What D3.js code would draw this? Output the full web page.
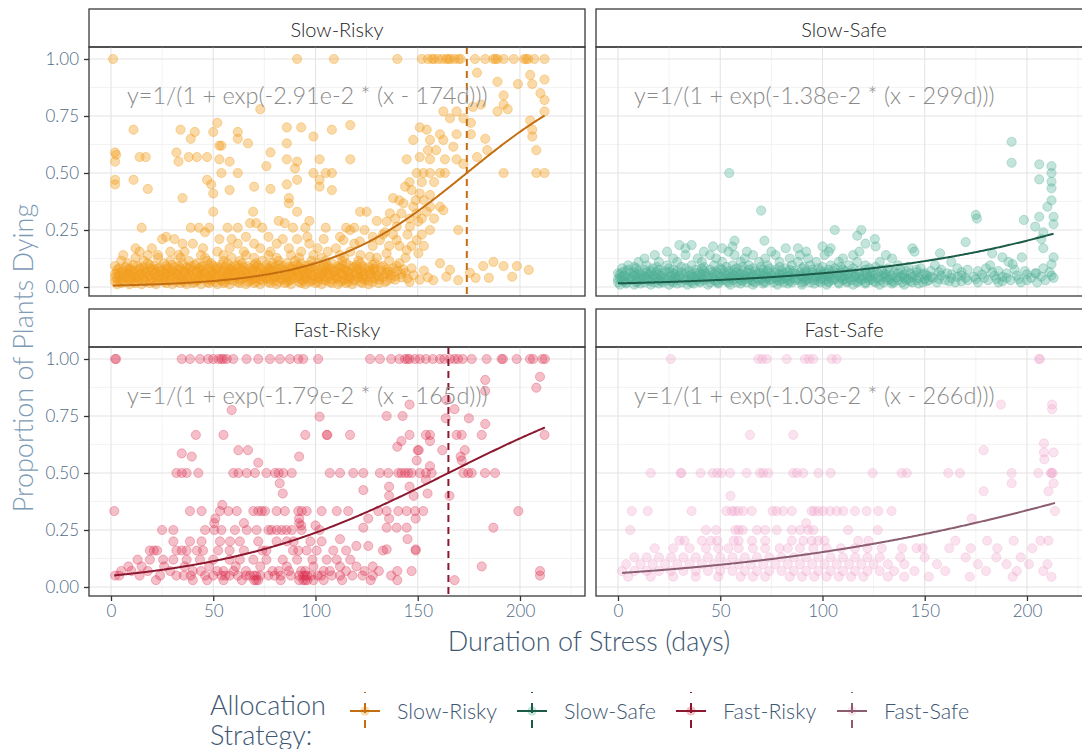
<!DOCTYPE html>
<html>
<head>
<meta charset="utf-8">
<script src="https://cdn.jsdelivr.net/npm/d3@7"></script>
<style>
  body { margin: 0; background: #fff; }
  text { font-family: Lato, "Open Sans", sans-serif; }
</style>
</head>
<body>
<svg id="chart" width="1082" height="749"></svg>
<script>
// Facet order and labels
const strategies = ["Slow-Risky", "Slow-Safe", "Fast-Risky", "Fast-Safe"];

// Logistic fit per strategy: y = 1/(1 + exp(rate * (x - midpoint)))
const fitRates = [-2.91e-2, -1.38e-2, -1.79e-2, -1.03e-2];
const fitMidpoints = [174, 299, 165, 266];

const pointColors = ["#f29d1e", "#4fb095", "#dc2a4c", "#f0a2cb"];
const pointAlpha = [0.38, 0.34, 0.3, 0.3];
const lineColors = ["#c46e12", "#1b5b47", "#8c1830", "#8a5d71"];

const xTicks = [0, 50, 100, 150, 200];
const yTicks = [0, 0.25, 0.5, 0.75, 1];

// Observations: [proportion dying, [durations in days]]
const slowRisky = [
  [1.00, [1, 91, 109, 140, 152, 155, 157, 158, 160, 162, 164, 165, 166, 168, 170, 171, 178, 183, 187, 188, 189, 192, 197, 202, 203, 204, 207, 212]],
  [0.94, [179]], [0.93, [205]], [0.91, [212]], [0.90, [189]], [0.89, [199, 206]],
  [0.85, [210]], [0.84, [192]], [0.82, [212]], [0.80, [192, 181]], [0.79, [177]],
  [0.78, [194, 73]], [0.77, [189, 212, 162.5, 169]], [0.74, [165.8, 172.3]], [0.73, [205]],
  [0.72, [52, 176]], [0.71, [117]], [0.70, [86, 93, 151]], [0.69, [11, 34, 108, 206, 154.4]],
  [0.68, [41, 50, 62]], [0.67, [160.9, 169, 176]], [0.66, [99, 206]], [0.65, [62, 39, 183]],
  [0.645, [147.8, 156, 162.5]], [0.63, [67, 86]], [0.62, [53, 54]], [0.615, [167.4]],
  [0.60, [184, 208, 155, 159]], [0.59, [2, 32, 78]], [0.58, [2.5]], [0.57, [14, 17, 38, 42, 47, 151, 179]],
  [0.56, [53, 86, 102, 117, 144.6, 156, 163.3, 169]], [0.55, [2, 33, 58, 91]], [0.54, [172.3]],
  [0.53, [76]], [0.52, [90]],
  [0.50, [54, 62, 99, 105, 108, 149.5, 152.8, 156, 160.9, 163.3, 192, 208, 212]],
  [0.47, [2, 11, 47, 91, 102]], [0.46, [146, 152, 158]], [0.45, [2, 49, 86]], [0.44, [70, 102, 143.8]],
  [0.43, [18, 78]], [0.425, [58, 108, 147]], [0.41, [50, 151]], [0.404, [156]],
  [0.39, [35, 87, 138]], [0.38, [141, 149, 153]], [0.367, [87, 143]], [0.352, [147.8, 156, 160.9]],
  [0.337, [162.5]], [0.33, [50, 69.5, 91, 121.8, 125, 154.4]], [0.323, [136.4, 142, 149.5]],
  [0.30, [139, 146, 152, 158]],
  [0.29, [82, 97, 130]], [0.287, [134.8, 150.3]], [0.28, [68, 71, 85]],
  [0.265, [139.7, 146.2]],
  [0.26, [15, 39, 43, 48, 57, 62, 74, 89, 95, 105, 115, 119]],
  [0.25, [116.9, 124, 156, 169.8]], [0.24, [46, 134]], [0.23, [133, 138, 145, 152]],
  [0.22, [27, 66, 77, 96, 112, 128]],
  [0.206, [113.6, 131.5, 139.7, 149.5]], [0.21, [25, 31, 53, 59, 84, 91, 104]],
  [0.20, [121.7]], [0.19, [35, 40, 62, 70, 81, 97, 119]], [0.18, [128, 136, 141, 147, 153]],
  [0.17, [12, 20, 45, 58, 73, 87, 101, 110]], [0.162, [144.6]],
  [0.155, [14, 29, 36, 52, 65, 78, 93, 106, 117]], [0.148, [134.8, 150.3]],
  [0.14, [6, 18, 23, 33, 44, 55, 66, 77, 88, 99, 112, 122]], [0.133, [126.6]],
  [0.128, [12, 23, 34, 46, 59, 70, 81, 92, 103, 114, 130, 144]],
  [0.115, [5, 16, 29, 38, 47, 55, 63, 74, 82, 90, 98, 105, 113, 121, 136]],
  [0.11, [187]], [0.104, [8, 18, 26, 35, 42, 49, 57, 64, 71, 79, 86, 93, 101, 108, 115, 122, 129, 141, 160.9]],
  [0.097, [11, 19, 30, 41, 48, 54, 62, 70, 76, 82, 91, 97, 104, 113, 120, 128]],
  [0.092, [2, 13, 21, 27, 33, 39, 45, 50, 56, 61, 67, 72, 78, 84, 89, 95, 100, 106, 111, 117, 123, 133, 139.7, 182, 192, 198.5]],
  [0.087, [7, 16, 24, 31, 37, 44, 52, 59, 65, 71, 80, 87, 92, 98, 105, 112, 119, 126, 132]],
  [0.082, [4, 9, 14, 19, 23, 28, 34, 38, 43, 48, 53, 58, 62, 68, 73, 77, 83, 88, 93, 97, 103, 108, 112, 118, 124, 129, 138, 147]],
  [0.077, [3, 9, 14, 21, 27, 33, 39, 45, 52, 58, 64, 70, 77, 82, 89, 94, 101, 107, 114, 121, 128, 135, 143]],
  [0.075, [165.8, 204.3]],
  [0.072, [6, 11, 16, 20, 25, 30, 35, 40, 44, 49, 55, 60, 64, 69, 75, 79, 85, 90, 94, 99, 105, 110, 115, 120, 126, 132, 140, 153]],
  [0.067, [5, 10, 17, 24, 29, 36, 42, 49, 54, 59, 66, 73, 78, 85, 91, 97, 104, 109, 116, 123, 129, 136]],
  [0.062, [3, 8, 12, 17, 22, 27, 31, 36, 42, 46, 51, 57, 61, 66, 72, 76, 81, 87, 91, 96, 102, 106, 112, 116, 122, 127, 135, 144, 175.5]],
  [0.057, [2, 8, 15, 21, 27, 32, 38, 45, 50, 57, 63, 69, 75, 82, 88, 95, 101, 107, 113, 120, 127, 134, 142]],
  [0.052, [4, 10, 14, 19, 24, 29, 33, 39, 44, 49, 53, 59, 64, 68, 74, 79, 83, 89, 94, 98, 103, 109, 114, 119, 124, 130, 137, 148]],
  [0.047, [6, 12, 18, 24, 30, 35, 43, 48, 55, 61, 67, 74, 80, 85, 92, 99, 104, 110, 116, 123, 131, 139]],
  [0.045, [164, 196.2]], [0.04, [178.3, 184.8]],
  [0.042, [2, 7, 12, 16, 22, 26, 31, 37, 41, 46, 52, 56, 61, 66, 71, 76, 80, 86, 91, 95, 101, 106, 111, 117, 121, 127, 133, 142, 155]],
  [0.037, [3, 8, 13, 20, 26, 33, 38, 45, 51, 57, 64, 70, 76, 83, 89, 96, 102, 110, 116, 123, 129, 137, 145]],
  [0.032, [5, 9, 14, 19, 24, 28, 34, 39, 43, 48, 54, 58, 63, 69, 73, 78, 84, 88, 93, 99, 104, 108, 114, 119, 124, 131, 139, 151]],
  [0.03, [157.6, 169.8]],
  [0.027, [4, 10, 16, 23, 29, 35, 42, 49, 54, 60, 68, 74, 80, 87, 94, 98, 105, 113, 119, 126, 135]],
  [0.022, [2, 6, 11, 17, 21, 26, 32, 36, 41, 47, 51, 56, 62, 67, 71, 77, 82, 86, 92, 97, 101, 107, 112, 116, 122, 128, 134, 146]],
  [0.017, [5, 12, 19, 27, 34, 40, 48, 55, 63, 70, 78, 85, 93, 100, 108, 115, 123, 131]],
  [0.012, [3, 9, 15, 22, 30, 37, 44, 52, 58, 66, 73, 81, 88, 95, 103, 111, 118, 126]]
];

const slowSafe = [
  [0.637, [192.5]], [0.545, [192.5]], [0.538, [206]], [0.53, [212]], [0.50, [54.4, 212]],
  [0.472, [206]], [0.462, [212]], [0.433, [212]], [0.38, [212]], [0.352, [210]],
  [0.335, [70]], [0.316, [175]], [0.308, [206, 213]], [0.30, [175.5]], [0.294, [198.5]],
  [0.276, [213]], [0.265, [204]], [0.25, [106, 119]], [0.24, [208]], [0.225, [117]],
  [0.21, [207, 125.6]], [0.203, [57, 71.6]], [0.197, [170]], [0.19, [121]],
  [0.184, [30, 36]], [0.178, [46.5, 56, 100, 126]],
  [0.17, [33, 51, 82, 88, 104, 144, 208]],
  [0.155, [24, 42, 54, 63, 75, 92, 103, 118, 145]], [0.148, [157.5, 183]],
  [0.14, [18, 33, 45, 57, 66, 77, 89, 101, 115, 131]],
  [0.13, [188, 197.5, 213]],
  [0.125, [13, 27, 39, 48, 62, 72, 84, 93, 110, 134]],
  [0.11, [10, 20, 29, 41, 51, 60, 69, 79, 88, 97, 108, 117, 128, 163, 191]],
  [0.10, [193, 212]],
  [0.095, [5, 14, 24, 36, 47, 56, 64, 73, 85, 94, 104, 113, 121, 137, 155, 182]],
  [0.088, [8, 19, 31, 42, 53, 61, 70, 79, 91, 100, 109, 126, 142]],
  [0.082, [2, 9, 17, 25, 33, 41, 50, 58, 66, 74, 82, 90, 98, 106, 115, 123, 132, 148, 166, 180, 208]],
  [0.076, [5, 13, 20, 27, 38, 45, 51, 57, 64, 71, 77, 84, 95, 103, 110, 121, 129, 138, 146, 158, 171, 194]],
  [0.07, [4, 10, 16, 23, 29, 35, 42, 48, 54, 61, 67, 73, 80, 86, 92, 99, 105, 111, 118, 125, 133, 141, 153, 176, 186, 199]],
  [0.065, [2, 8, 14, 19, 25, 31, 40, 46, 52, 58, 63, 69, 77, 83, 89, 95, 101, 109, 115, 121, 127, 135, 146, 157, 168, 183, 211]],
  [0.06, [0, 6, 11, 16, 22, 27, 33, 38, 43, 49, 54, 59, 65, 70, 75, 81, 86, 91, 97, 102, 107, 113, 118, 124, 130, 137, 143, 150, 161, 190, 204, 204.5]],
  [0.055, [1, 9, 15, 20, 28, 36, 41, 47, 56, 60, 68, 72, 79, 87, 94, 100, 105, 114, 122, 131, 140, 149, 163, 178, 200]],
  [0.05, [3, 8, 12, 17, 21, 26, 30, 35, 39, 44, 48, 53, 57, 62, 66, 71, 75, 80, 84, 89, 93, 98, 102, 107, 111, 116, 120, 125, 129, 134, 139, 145, 151, 158, 168, 184, 195, 212]],
  [0.045, [2, 7, 13, 18, 25, 30, 36, 43, 51, 55, 61, 65, 73, 79, 83, 90, 97, 103, 109, 116, 123, 130, 138, 144, 153, 166, 174, 188, 207]],
  [0.04, [1, 5, 10, 14, 19, 23, 28, 32, 37, 41, 46, 50, 55, 59, 64, 68, 73, 77, 82, 86, 91, 95, 100, 104, 109, 113, 118, 122, 127, 131, 136, 140, 147, 154, 163, 170, 179, 190, 202, 213]],
  [0.035, [0, 6, 12, 17, 22, 27, 34, 39, 44, 52, 57, 62, 70, 75, 80, 88, 93, 99, 106, 111, 119, 124, 133, 142, 150, 157, 175, 185, 196]],
  [0.03, [2, 6, 11, 15, 20, 24, 29, 33, 38, 42, 47, 51, 56, 60, 65, 69, 74, 78, 83, 87, 92, 96, 101, 105, 110, 114, 119, 123, 128, 132, 137, 141, 146, 152, 160, 171, 181, 192, 200, 209]],
  [0.025, [3, 9, 16, 21, 26, 35, 40, 48, 53, 61, 66, 71, 79, 84, 91, 98, 103, 112, 117, 125, 134, 143, 151, 162, 168, 188]],
  [0.02, [0, 4, 9, 13, 18, 22, 27, 31, 36, 40, 45, 49, 54, 58, 63, 67, 72, 76, 81, 85, 90, 94, 99, 103, 108, 112, 117, 121, 126, 130, 135, 139, 144, 149, 156, 165, 176, 186, 197, 205]],
  [0.015, [4, 11, 20, 29, 37, 49, 60, 71, 83, 96, 108, 121, 134, 147]],
  [0.01, [1, 8, 16, 25, 34, 44, 55, 66, 78, 90, 102, 115, 128, 140]]
];

const fastRisky = [
  [1.00, [2, 2.5, 34.6, 38.6, 43.5, 47.5, 50, 52.6, 54, 55, 56.6, 59.8, 66.3, 72, 77.7, 82.6, 87.5, 91.6, 94, 101.3, 126.7, 131.5, 137, 141, 143.8, 145, 146, 148.7, 151, 154, 157.4, 160.9, 163, 165.8, 168, 169.7, 172, 176.4, 183.7, 191, 191.7, 198.4, 204.9, 206.4, 211, 212.2]],
  [0.922, [209.8]], [0.908, [183]], [0.874, [208]], [0.86, [183]], [0.82, [164]],
  [0.80, [146]], [0.78, [168]], [0.776, [59]], [0.75, [134.8, 142.6]], [0.747, [102]],
  [0.74, [163.7, 175]], [0.715, [183]],
  [0.667, [41.5, 55, 95, 105.5, 105.8, 116.9, 146, 154, 156, 169, 171.5, 181.3, 212]],
  [0.64, [156, 142]], [0.615, [140]], [0.60, [62.3, 67, 150, 150.5, 162, 173]],
  [0.586, [34.6]], [0.572, [39.5, 92, 171]], [0.555, [149.5, 171.5]], [0.545, [72]], [0.53, [156]],
  [0.5, [32, 34.6, 37, 42.7, 59.8, 62.3, 66.4, 70.4, 76, 80.2, 82, 84.3, 88.4, 107, 112, 118.5, 123.4, 131.5, 135.6, 140.5, 142, 143.8, 145.4, 147, 151, 154, 156.8, 172.3, 174.7, 176.4, 182.9, 187.8]],
  [0.47, [154]], [0.455, [82.5]], [0.44, [146, 136]], [0.425, [123.4]], [0.41, [154.8, 84]],
  [0.40, [165.5, 148, 136]], [0.36, [54.4]],
  [0.333, [1.6, 38.6, 44.3, 53.3, 57.4, 61.5, 69.6, 72, 73.7, 75.3, 81, 85, 91.6, 93.3, 95.7, 103, 110.4, 116, 130.7, 134.8, 140.5, 144.6, 148.7, 152.7, 199.2]],
  [0.30, [51, 125.8, 136, 149, 92]], [0.28, [50.5, 65, 92]], [0.27, [93, 100]],
  [0.26, [123.4, 134.8, 139.7, 144.6, 187]],
  [0.25, [25, 30.5, 46, 50.5, 54, 60.6, 66.4, 71.2, 77, 78.5, 81, 83.5, 85.8, 88.4, 93.2, 102]],
  [0.21, [112, 145]], [0.2, [30.5, 38.6, 44.3, 53.3, 58.2, 63, 72, 81, 86, 89.3, 97.5, 103]],
  [0.18, [120, 125.8]], [0.165, [134.8, 149]],
  [0.16, [19, 21, 22.5, 32, 34.6, 37, 42, 45, 52.4, 58, 65, 74, 76, 89, 91.6, 95.7, 100.6, 108.7, 115, 133, 149]],
  [0.12, [13, 19, 25.5, 30.5, 37, 43.5, 50, 58, 63, 69.6, 76, 84, 91, 98.5, 105.5, 110.4, 117]],
  [0.09, [181.3, 120, 8.5, 15, 26, 36, 48, 61, 73, 86, 99, 112, 128]],
  [0.07, [147, 209.8, 140, 5, 10, 18, 29, 40, 44, 52, 55, 60, 66, 79, 82, 87, 93, 95, 104, 107, 115, 124, 131]],
  [0.05, [209.8, 2, 4, 14, 24, 32, 35.6, 39, 46, 50, 54, 56, 58, 62, 66, 68, 70, 71, 73, 77, 80, 83, 88, 92, 94, 95, 96, 98, 101, 103, 108, 112, 118, 123, 128, 137]],
  [0.03, [168, 22, 40, 47, 55, 64, 70, 71, 72, 83, 92, 94, 95, 96, 99, 104, 113, 127, 140]]
];

const fastSafe = [
  [1.0, [25.8, 68.6, 70.5, 72.7, 82.5, 91.4, 93.5, 95.5, 104.5, 106.9, 205.9, 206.3]],
  [0.80, [187.3, 212.3]], [0.78, [212.3]], [0.667, [64.5, 85.7]], [0.63, [208.3]],
  [0.60, [178.8]], [0.59, [208.3, 213]], [0.56, [208.5]],
  [0.5, [16, 30.7, 31, 40.4, 46.3, 48.5, 50.7, 54.8, 62.9, 69.4, 71, 73.5, 85.7, 87.5, 90.6, 98, 104, 124.5, 138.7, 141.2, 161.5, 167.2, 192.5, 205.5, 211.7, 212.6, 212]],
  [0.455, [192.5, 213]], [0.42, [178.8, 210.5]], [0.40, [55]],
  [0.333, [6.7, 14.5, 36, 53, 55.6, 57, 58.8, 61.3, 65.4, 75.6, 77.6, 80.8, 85, 94.7, 96, 98, 100.4, 103.7, 107, 110.2, 115.9, 121.6, 127.3, 133.8, 213.7]],
  [0.30, [173]], [0.28, [92]],
  [0.25, [6, 43, 48, 57.4, 59, 61, 68, 72, 77.6, 85, 89, 93, 95.5, 112.5, 127]],
  [0.203, [30, 32.5, 41, 45.5, 48.5, 56.6, 59, 65.5, 72, 85, 90.6, 94.7, 98, 101, 117.5, 122.5, 165, 180.5, 193.5, 206.6, 210.5]],
  [0.17, [18, 27, 35, 43, 49, 54, 59, 66, 72, 79, 83, 89, 95.5, 102, 109, 115.9, 122, 129, 139, 146, 149, 162, 172.5, 185.5, 202.6]],
  [0.13, [8, 14, 20, 26, 32, 38, 44, 50, 56, 62, 68, 74, 80, 86, 92, 98, 104, 110, 116, 122, 128, 138, 150, 170, 185, 197]],
  [0.10, [4, 11, 17, 23, 29, 35, 41, 47, 53, 59, 65, 71, 77, 83, 89, 95, 101, 107, 113, 119, 125, 132, 140, 156, 176, 190, 201, 210]],
  [0.07, [2, 8, 14, 20, 26, 32, 38, 44, 50, 56, 62, 68, 74, 80, 86, 92, 98, 104, 110, 116, 122, 128, 135, 145, 160, 180, 195, 208]],
  [0.045, [5, 16, 27, 38, 49, 60, 66, 72, 84, 90, 96, 102, 108, 114, 120, 132, 140, 152, 172, 193, 212]]
];

const observations = [slowRisky, slowSafe, fastRisky, fastSafe];

// ---- layout ----
const svg = d3.select("#chart");
const panelW = 496, plotH = 249, stripH = 38;
const colX = [89, 596];
const rowY = [9, 309];

const x = d3.scaleLinear().domain([-10.76, 231.8]).range([0, panelW]);
const y = d3.scaleLinear().domain([-0.0395, 1.0526]).range([plotH, 0]);

const tickColor = "#4f6984";
const titleColor = "#3d5672";

strategies.forEach((name, i) => {
  const col = i % 2, row = Math.floor(i / 2);
  const g = svg.append("g").attr("transform", `translate(${colX[col]},${rowY[row]})`);

  // strip
  g.append("rect").attr("x", 0).attr("y", 0).attr("width", panelW).attr("height", stripH)
    .attr("fill", "#fff").attr("stroke", "#3a3a3a").attr("stroke-width", 1.3);
  g.append("text").attr("x", panelW / 2).attr("y", stripH / 2 + 1)
    .attr("text-anchor", "middle").attr("dominant-baseline", "central")
    .attr("font-size", 20).attr("font-weight", 300).attr("fill", "#222").text(name);

  const p = g.append("g").attr("transform", `translate(0,${stripH})`);
  const clipId = "clip" + i;
  p.append("clipPath").attr("id", clipId).append("rect")
    .attr("width", panelW).attr("height", plotH);

  // grid
  const grid = p.append("g");
  const minorX = [25, 75, 125, 175, 225], minorY = [0.125, 0.375, 0.625, 0.875];
  grid.selectAll(".mx").data(minorX).join("line")
    .attr("x1", d => x(d)).attr("x2", d => x(d)).attr("y1", 0).attr("y2", plotH)
    .attr("stroke", "#f0f0f0").attr("stroke-width", 0.8);
  grid.selectAll(".my").data(minorY).join("line")
    .attr("y1", d => y(d)).attr("y2", d => y(d)).attr("x1", 0).attr("x2", panelW)
    .attr("stroke", "#f0f0f0").attr("stroke-width", 0.8);
  grid.selectAll(".gx").data(xTicks).join("line")
    .attr("x1", d => x(d)).attr("x2", d => x(d)).attr("y1", 0).attr("y2", plotH)
    .attr("stroke", "#e4e4e4").attr("stroke-width", 1.1);
  grid.selectAll(".gy").data(yTicks).join("line")
    .attr("y1", d => y(d)).attr("y2", d => y(d)).attr("x1", 0).attr("x2", panelW)
    .attr("stroke", "#e4e4e4").attr("stroke-width", 1.1);

  const body = p.append("g").attr("clip-path", `url(#${clipId})`);

  // points
  const pts = observations[i].flatMap(([v, xs]) => xs.map(d => ({ x: d, y: v })));
  body.append("g").selectAll("circle").data(pts).join("circle")
    .attr("cx", d => x(d.x)).attr("cy", d => y(d.y)).attr("r", 4.6)
    .attr("fill", pointColors[i]).attr("fill-opacity", pointAlpha[i])
    .attr("stroke", pointColors[i]).attr("stroke-opacity", pointAlpha[i]).attr("stroke-width", 1);

  // logistic fit across the observed duration range
  const [x0, x1] = d3.extent(pts, d => d.x);
  const fit = d => 1 / (1 + Math.exp(fitRates[i] * (d - fitMidpoints[i])));
  const xs = d3.range(x0, x1, 0.5).concat([x1]);
  body.append("path").datum(xs)
    .attr("d", d3.line().x(d => x(d)).y(d => y(fit(d))))
    .attr("fill", "none").attr("stroke", lineColors[i]).attr("stroke-width", 2);

  // midpoint marker when it lies inside the observed window
  const mid = fitMidpoints[i];
  if (mid < x.domain()[1]) {
    body.append("line").attr("x1", x(mid)).attr("x2", x(mid)).attr("y1", 0).attr("y2", plotH)
      .attr("stroke", lineColors[i]).attr("stroke-width", 2).attr("stroke-dasharray", "7,5");
  }

  // equation
  p.append("text").attr("x", x(96)).attr("y", y(0.84))
    .attr("text-anchor", "middle").attr("dominant-baseline", "central")
    .attr("font-size", 23.5).attr("font-weight", 300).attr("fill", "#8a8a8a")
    .text(`y=1/(1 + exp(${fitRates[i].toExponential(2)} * (x - ${mid}d)))`);

  // border
  p.append("rect").attr("width", panelW).attr("height", plotH)
    .attr("fill", "none").attr("stroke", "#3a3a3a").attr("stroke-width", 1.3);

  // axes
  if (col === 0) {
    const ay = p.append("g").call(d3.axisLeft(y).tickValues(yTicks).tickFormat(d3.format(".2f")).tickSize(5).tickPadding(5));
    ay.select(".domain").remove();
    ay.selectAll("line").attr("stroke", "#333").attr("stroke-width", 1.3);
    ay.selectAll("text").attr("font-size", 17).attr("font-weight", 300).attr("fill", tickColor).attr("font-family", "Lato, sans-serif");
  }
  if (row === 1) {
    const ax = p.append("g").attr("transform", `translate(0,${plotH})`)
      .call(d3.axisBottom(x).tickValues(xTicks).tickSize(5).tickPadding(4));
    ax.select(".domain").remove();
    ax.selectAll("line").attr("stroke", "#333").attr("stroke-width", 1.3);
    ax.selectAll("text").attr("font-size", 17).attr("font-weight", 300).attr("fill", tickColor).attr("font-family", "Lato, sans-serif");
  }
});

// axis titles
svg.append("text").attr("transform", "translate(22,358) rotate(-90)")
  .attr("text-anchor", "middle").attr("dominant-baseline", "central")
  .attr("font-size", 27).attr("font-weight", 300).attr("fill", "#7d9bb6")
  .text("Proportion of Plants Dying");
svg.append("text").attr("x", 589).attr("y", 640)
  .attr("text-anchor", "middle").attr("dominant-baseline", "central")
  .attr("font-size", 27).attr("font-weight", 300).attr("fill", titleColor)
  .text("Duration of Stress (days)");

// legend
const legend = svg.append("g");
legend.append("text").attr("x", 210).attr("y", 704).attr("dominant-baseline", "central")
  .attr("font-size", 27).attr("font-weight", 300).attr("fill", titleColor).text("Allocation");
legend.append("text").attr("x", 210).attr("y", 734).attr("dominant-baseline", "central")
  .attr("font-size", 27).attr("font-weight", 300).attr("fill", titleColor).text("Strategy:");

const keyX = [365, 532, 691, 852];
strategies.forEach((name, i) => {
  const k = legend.append("g").attr("transform", `translate(${keyX[i]},711)`);
  k.append("circle").attr("r", 4.6).attr("fill", pointColors[i]).attr("fill-opacity", pointAlpha[i]);
  k.append("line").attr("x1", -15).attr("x2", 15).attr("y1", 0).attr("y2", 0)
    .attr("stroke", lineColors[i]).attr("stroke-width", 2);
  k.append("line").attr("x1", 0).attr("x2", 0).attr("y1", -19).attr("y2", 18)
    .attr("stroke", lineColors[i]).attr("stroke-width", 2).attr("stroke-dasharray", "1,10,10,7,8,20");
  legend.append("text").attr("x", keyX[i] + 32).attr("y", 711).attr("dominant-baseline", "central")
    .attr("font-size", 21.5).attr("font-weight", 300).attr("fill", titleColor).text(name);
});
</script>
</body>
</html>
